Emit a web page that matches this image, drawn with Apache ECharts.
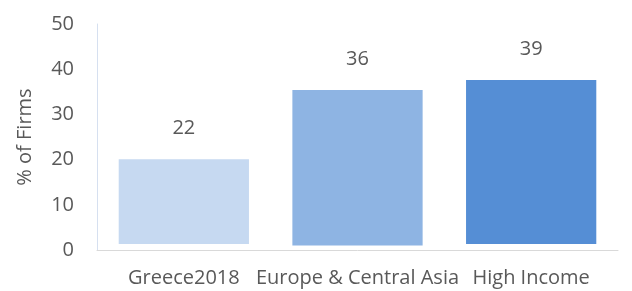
<!DOCTYPE html>
<html>
<head>
<meta charset="utf-8">
<script src="https://cdn.jsdelivr.net/npm/echarts@6/dist/echarts.min.js"></script>
<style>
  html, body { margin: 0; padding: 0; background: #fff; }
  #chart { width: 632px; height: 291px; }
</style>
</head>
<body>
<div id="chart"></div>
<script>
// categories and values
var categories = ['Greece2018', 'Europe & Central Asia', 'High Income'];
var labelValues = [22, 36, 39];          // numbers printed above the bars
var barBase = [1.3, 1.0, 1.3];           // bars float a little above the axis
var barTop = [20.1, 35.4, 37.6];         // where the bar tops sit on the axis
var barColors = ['#C6D9F1', '#8EB4E3', '#558ED5'];
var yTicks = [0, 10, 20, 30, 40, 50];

var textColor = '#595959';
var fontFamily = 'Open Sans';

var chart = echarts.init(document.getElementById('chart'));

var heights = barTop.map(function (t, i) {
    return +(t - barBase[i]).toFixed(2);
});

var option = {
    animation: false,
    grid: { left: 97, right: 14, top: 24, bottom: 41 },
    xAxis: {
        type: 'category',
        data: categories,
        axisTick: { show: false },
        axisLine: { lineStyle: { color: '#D9D9D9', width: 1 } },
        axisLabel: {
            color: textColor,
            fontFamily: fontFamily,
            fontSize: 20,
            margin: 18,
            interval: 0
        }
    },
    yAxis: {
        type: 'value',
        min: yTicks[0],
        max: yTicks[yTicks.length - 1],
        interval: 10,
        name: '% of Firms',
        nameLocation: 'middle',
        nameGap: 62,
        nameTextStyle: { color: textColor, fontFamily: fontFamily, fontSize: 20 },
        splitLine: { show: false },
        axisTick: { show: false },
        axisLine: { show: true, lineStyle: { color: '#D6E0F0', width: 1 } },
        axisLabel: {
            color: textColor,
            fontFamily: fontFamily,
            fontSize: 20,
            margin: 23
        }
    },
    series: [{
        type: 'bar',
        stack: 'b',
        data: barBase,
        barWidth: '75%',
        itemStyle: { color: 'transparent' },
        silent: true
    }, {
        type: 'bar',
        stack: 'b',
        barWidth: '75%',
        data: heights.map(function (h, i) {
            return { value: h, itemStyle: { color: barColors[i] } };
        }),
        label: {
            show: true,
            position: 'top',
            distance: 21,
            color: textColor,
            fontFamily: fontFamily,
            fontSize: 20,
            formatter: function (p) {
                return labelValues[p.dataIndex];
            }
        }
    }]
};

chart.setOption(option);
</script>
</body>
</html>
